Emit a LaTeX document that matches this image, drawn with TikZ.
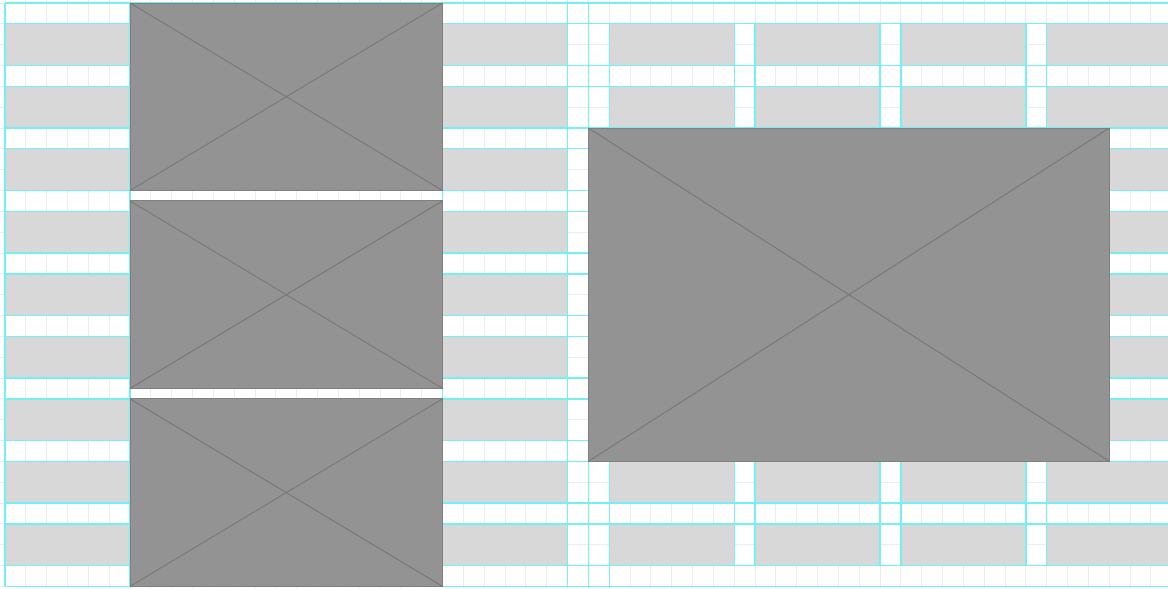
\documentclass[tikz,border=0pt]{standalone}
\usetikzlibrary{fit}
\definecolor{gridfaint}{RGB}{236,236,236}
\definecolor{guidecyan}{RGB}{115,240,245}
\definecolor{blockgray}{RGB}{216,216,216}
\definecolor{imagegray}{RGB}{147,147,147}
\definecolor{imageline}{RGB}{118,118,118}
\begin{document}
\begin{tikzpicture}[x=0.5cm, y=-0.5cm,
    imgbox/.style={fill=imagegray, draw=imageline!70!imagegray, line width=0.6pt, inner sep=0pt, outer sep=0pt},
    cross/.style={imageline, line width=0.6pt},
    guide/.style={guidecyan, line width=0.9pt}]
    \useasboundingbox (-0.24,-0.144) rectangle (55.82,28.08);
    \fill[white] (-0.24,-0.144) rectangle (55.82,28.08);
    % faint baseline grid
    \foreach \i in {0,...,55}
      \draw[gridfaint, line width=0.6pt] (\i,-0.144) -- (\i,28.08);
    \foreach \j in {0,...,28}
      \draw[gridfaint, line width=0.6pt] (-0.24,\j) -- (55.82,\j);
    % gray content blocks, 9 bands
    \foreach \k in {0,...,8} {
      \foreach \xa/\xb in {0/27, 29/35, 36/42, 43/49, 50/55.82}
        \fill[blockgray] (\xa,3*\k+1) rectangle (\xb,3*\k+3);
    }
    % cyan row guides
    \foreach \k in {0,...,9} {
      \draw[guide] (0,3*\k) -- (55.82,3*\k);
      \draw[guide] (0,3*\k+1) -- (55.82,3*\k+1);
    }
    % cyan column guides
    \foreach \xc in {0,6,21,27,28}
      \draw[guide] (\xc,0) -- (\xc,28);
    \draw[guide] (29,1) -- (29,28);
    \foreach \xc in {35,36,42,43,49,50}
      \draw[guide] (\xc,1) -- (\xc,27);
    % image placeholders
    \node[imgbox, fit={(6,0) (21,9)}] (imgtop) {};
    \node[imgbox, fit={(6,9.5) (21,18.5)}] (imgmid) {};
    \node[imgbox, fit={(6,19) (21,28)}] (imgbot) {};
    \node[imgbox, fit={(28,6) (53,22)}] (imgwide) {};
    \foreach \im in {imgtop,imgmid,imgbot,imgwide} {
      \draw[cross] (\im.north west) -- (\im.south east);
      \draw[cross] (\im.south west) -- (\im.north east);
    }
\end{tikzpicture}
\end{document}
